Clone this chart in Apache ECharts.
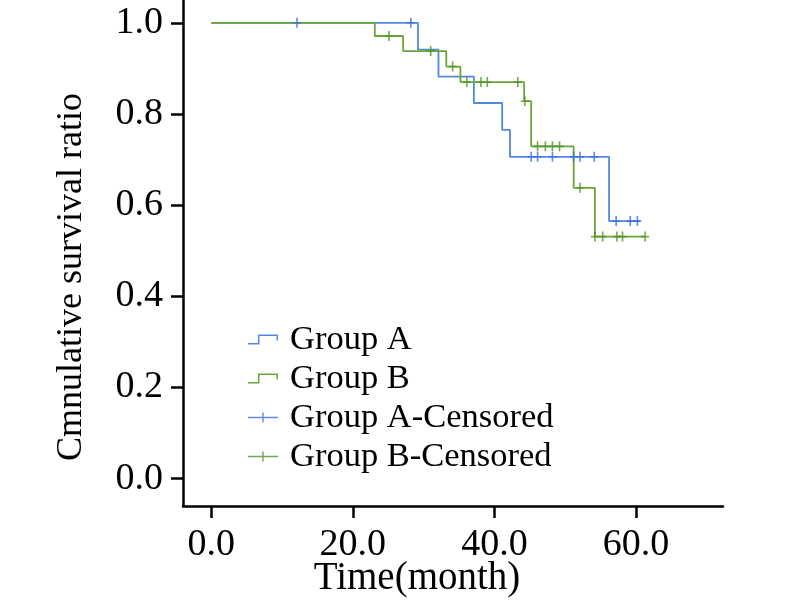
<!DOCTYPE html>
<html>
<head>
<meta charset="utf-8">
<script src="https://cdn.jsdelivr.net/npm/echarts@6/dist/echarts.min.js"></script>
<style>html,body{margin:0;padding:0;background:#fff;}#c{width:800px;height:600px;}</style>
</head>
<body>
<div id="c"></div>
<script>
// Kaplan-Meier step points [time, survival]
var groupA = [[0,1.0],[29.2,0.941],[32.1,0.882],[37.1,0.824],[41.1,0.765],[42.2,0.706],[56.2,0.565],[60.6,0.565]];
var groupB = [[0,1.0],[23.1,0.971],[27.1,0.938],[33.2,0.904],[35.2,0.870],[44.2,0.828],[45.2,0.729],[51.2,0.638],[54.2,0.531],[61.3,0.531]];
// censored marks [time, survival]
var censorA = [[12.1,1.0],[28.2,1.0],[45.2,0.706],[46.1,0.706],[48.2,0.706],[51.2,0.706],[52.1,0.706],[54.1,0.706],[57.2,0.565],[59.2,0.565],[60.2,0.565]];
var censorB = [[25.1,0.971],[31.0,0.938],[34.1,0.904],[36.1,0.870],[38.1,0.870],[39.0,0.870],[43.3,0.870],[44.3,0.828],[46.1,0.729],[47.2,0.729],[48.2,0.729],[49.2,0.729],[52.1,0.638],[54.2,0.531],[55.3,0.531],[57.3,0.531],[58.1,0.531],[61.3,0.531]];
var xTicks = [0,20,40,60];
var yTicks = [0,0.2,0.4,0.6,0.8,1.0];

var blue = '#5289e0', green = '#6aa53a', blueDark = '#3a6fd8', greenDark = '#4f9424';
var font = 'Liberation Serif, Times New Roman, serif';
var crossPath = 'path://M0,4.2h8v1.6h-8z M3.2,0h1.6v10h-1.6z';
var stepIcon = 'path://M0,8.5L10,8.5L10,0L30,0L30,6L28.5,6L28.5,1.5L11.5,1.5L11.5,10L0,10Z';
var legendCross = 'path://M0,4.3h30v1.4h-30z M14.3,0h1.4v10h-1.4z';

var chart = echarts.init(document.getElementById('c'));
chart.setOption({
  backgroundColor: '#fff',
  animation: false,
  grid: {left: 183, right: 77, top: 0, bottom: 94, outerBoundsMode: 'none', containLabel: false},
  legend: {
    orient: 'vertical', left: 243, top: 317, itemGap: 4,
    itemWidth: 30, itemHeight: 10,
    textStyle: {fontFamily: font, fontSize: 34.5, color: '#000', padding: [0, 0, 0, 7]},
    data: [
      {name: 'Group A', icon: stepIcon},
      {name: 'Group B', icon: stepIcon},
      {name: 'Group A-Censored', icon: legendCross},
      {name: 'Group B-Censored', icon: legendCross}
    ]
  },
  xAxis: {
    type: 'value', min: -4, max: 72.3,
    name: 'Time(month)', nameLocation: 'middle', nameGap: 53, nameMoveOverlap: false,
    nameTextStyle: {fontFamily: font, fontSize: 39, color: '#000', padding: [0, 72, 0, 0]},
    axisLine: {onZero: false, lineStyle: {color: '#000', width: 2.5}},
    axisTick: {show: true, length: 12, lineStyle: {color: '#000', width: 2.5}, customValues: xTicks},
    axisLabel: {fontFamily: font, fontSize: 38, color: '#000', margin: 20, customValues: xTicks,
      formatter: function(v){return v.toFixed(1);}},
    splitLine: {show: false}
  },
  yAxis: {
    type: 'value', min: -0.06, max: 1.05,
    name: 'Cmnulative survival ratio', nameLocation: 'middle', nameGap: 93, nameMoveOverlap: false,
    nameTextStyle: {fontFamily: font, fontSize: 36, color: '#000', padding: [0, 48, 0, 0]},
    axisLine: {show: true, onZero: false, lineStyle: {color: '#000', width: 2.5}},
    axisTick: {show: true, length: 12, lineStyle: {color: '#000', width: 2.5}, customValues: yTicks},
    axisLabel: {fontFamily: font, fontSize: 38, color: '#000', margin: 20, customValues: yTicks,
      formatter: function(v){return v.toFixed(1);}},
    splitLine: {show: false}
  },
  series: [
    {name: 'Group A', type: 'line', step: 'end', data: groupA, showSymbol: false,
      itemStyle: {color: blue}, lineStyle: {color: blue, width: 1.8}},
    {name: 'Group B', type: 'line', step: 'end', data: groupB, showSymbol: false,
      itemStyle: {color: green}, lineStyle: {color: green, width: 1.8}},
    {name: 'Group A-Censored', type: 'scatter', data: censorA, symbol: crossPath, symbolSize: [8, 10],
      itemStyle: {color: blueDark}, z: 5},
    {name: 'Group B-Censored', type: 'scatter', data: censorB, symbol: crossPath, symbolSize: [8, 10],
      itemStyle: {color: greenDark}, z: 5}
  ]
});
</script>
</body>
</html>
